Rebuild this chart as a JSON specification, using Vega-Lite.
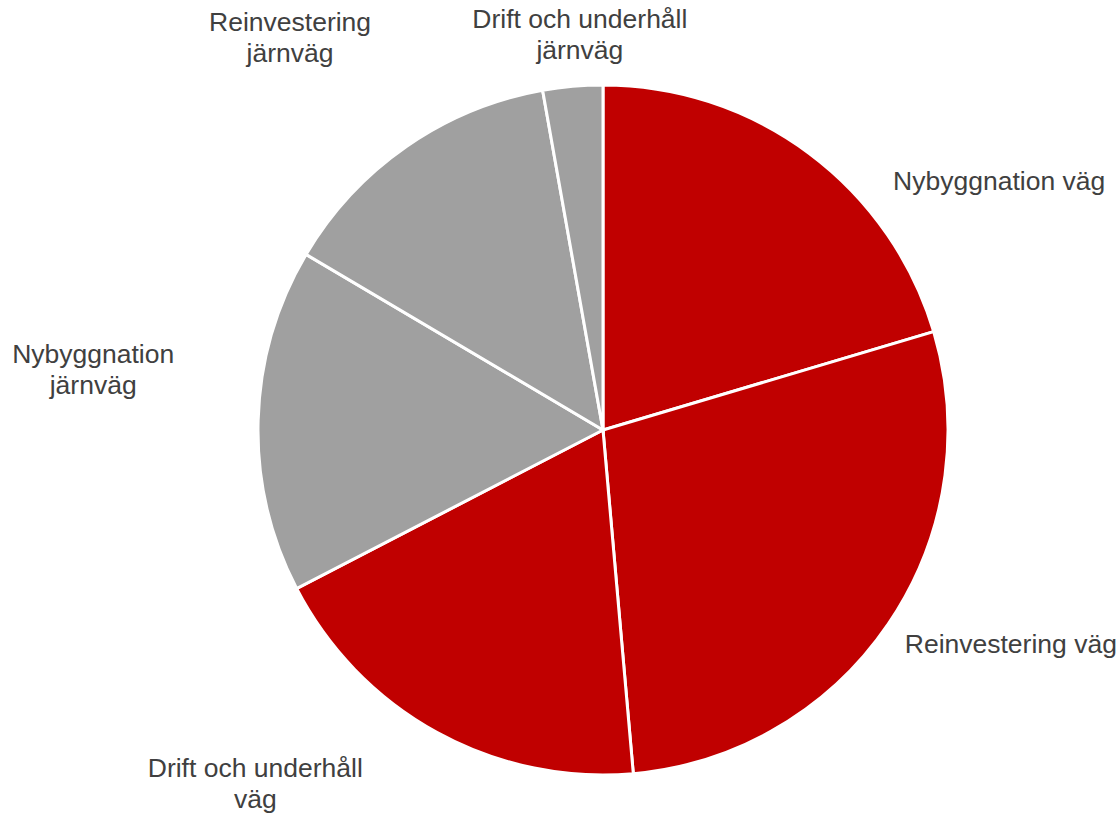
{
  "$schema": "https://vega.github.io/schema/vega-lite/v6.json",
  "width": 1032,
  "height": 768,
  "autosize": {"type": "none"},
  "padding": {"left": 87, "top": 46, "right": 0, "bottom": 0},
  "background": "white",
  "config": {"view": {"stroke": null}},
  "data": {
    "values": [
      {"label": "Nybyggnation väg", "mode": "väg", "rank": 1, "share": 20.4},
      {"label": "Reinvestering väg", "mode": "väg", "rank": 2, "share": 28.2},
      {"label": "Drift och underhåll\nväg", "mode": "väg", "rank": 3, "share": 18.8},
      {"label": "Nybyggnation\njärnväg", "mode": "järnväg", "rank": 4, "share": 16.1},
      {"label": "Reinvestering\njärnväg", "mode": "järnväg", "rank": 5, "share": 13.7},
      {"label": "Drift och underhåll\njärnväg", "mode": "järnväg", "rank": 6, "share": 2.8}
    ]
  },
  "encoding": {
    "theta": {"field": "share", "type": "quantitative", "stack": true},
    "order": {"field": "rank", "type": "quantitative"}
  },
  "layer": [
    {
      "mark": {"type": "arc", "outerRadius": 345, "stroke": "white", "strokeWidth": 3},
      "encoding": {
        "color": {
          "field": "mode", "type": "nominal",
          "scale": {"domain": ["väg", "järnväg"], "range": ["#C00000", "#A0A0A0"]},
          "legend": null
        }
      }
    },
    {
      "mark": {"type": "text", "radius": 400, "dx": 157, "dy": 73, "font": "Liberation Sans", "fontSize": 26.5, "fill": "#404040", "lineBreak": "\n", "lineHeight": 31, "align": "center", "baseline": "middle"},
      "encoding": {"text": {"condition": {"test": "datum.rank === 1", "field": "label"}, "value": ""}}
    },
    {
      "mark": {"type": "text", "radius": 400, "dx": 77, "dy": -10, "font": "Liberation Sans", "fontSize": 26.5, "fill": "#404040", "lineBreak": "\n", "lineHeight": 31, "align": "center", "baseline": "middle"},
      "encoding": {"text": {"condition": {"test": "datum.rank === 2", "field": "label"}, "value": ""}}
    },
    {
      "mark": {"type": "text", "radius": 400, "dx": -155, "dy": -11.5, "font": "Liberation Sans", "fontSize": 26.5, "fill": "#404040", "lineBreak": "\n", "lineHeight": 31, "align": "center", "baseline": "middle"},
      "encoding": {"text": {"condition": {"test": "datum.rank === 3", "field": "label"}, "value": ""}}
    },
    {
      "mark": {"type": "text", "radius": 400, "dx": -110, "dy": -63.5, "font": "Liberation Sans", "fontSize": 26.5, "fill": "#404040", "lineBreak": "\n", "lineHeight": 31, "align": "center", "baseline": "middle"},
      "encoding": {"text": {"condition": {"test": "datum.rank === 4", "field": "label"}, "value": ""}}
    },
    {
      "mark": {"type": "text", "radius": 400, "dx": -85, "dy": -78.5, "font": "Liberation Sans", "fontSize": 26.5, "fill": "#404040", "lineBreak": "\n", "lineHeight": 31, "align": "center", "baseline": "middle"},
      "encoding": {"text": {"condition": {"test": "datum.rank === 5", "field": "label"}, "value": ""}}
    },
    {
      "mark": {"type": "text", "radius": 400, "dx": 12, "dy": -11.5, "font": "Liberation Sans", "fontSize": 26.5, "fill": "#404040", "lineBreak": "\n", "lineHeight": 31, "align": "center", "baseline": "middle"},
      "encoding": {"text": {"condition": {"test": "datum.rank === 6", "field": "label"}, "value": ""}}
    }
  ]
}
